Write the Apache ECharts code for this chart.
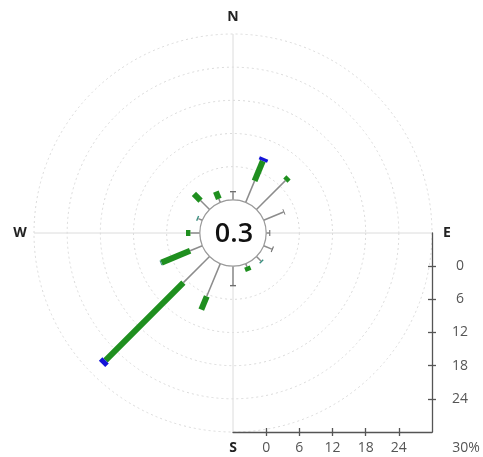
<!DOCTYPE html>
<html>
<head>
<meta charset="utf-8">
<script src="https://cdn.jsdelivr.net/npm/echarts@6/dist/echarts.min.js"></script>
<style>
  html, body { margin: 0; padding: 0; background: #fff; }
  #main { width: 483px; height: 457px; }
</style>
</head>
<body>
<div id="main"></div>
<script>
// wind directions (degrees from north) and frequency (%) per speed band
const directions = [0, 22.5, 45, 67.5, 90, 112.5, 135, 157.5, 180, 202.5, 225, 247.5, 270, 292.5, 315, 337.5];
const bandGray  = [1.35, 4.2, 7.4, 3.9, 0.55, 1.6, 1.15, 0.6, 3.4, 6.4, 6.7, 2.4, 1.7, 0.8, 2.3, 0.7];
const bandDark  = [0.25, 0, 0, 0.15, 0.2, 0.2, 0, 0, 0.25, 0, 0, 0, 0, 0, 0, 0];
const bandGreen = [0, 3.9, 0.8, 0, 0, 0, 0, 0.8, 0, 2.6, 19.9, 5.6, 0.8, 0, 1.7, 1.4];
const bandBlue  = [0, 0.6, 0, 0, 0, 0, 0.25, 0, 0, 0, 0.9, 0.2, 0, 0.25, 0, 0];
const calm = 0.3;
const tickValues = [0, 6, 12, 18, 24];

const bands = [
    { vals: bandGray,  color: '#8c8c8c', width: 1.5 },
    { vals: bandDark,  color: '#6e6e6e', width: 6 },
    { vals: bandGreen, color: '#1f8f1f', width: 6 },
    { vals: bandBlue,  color: '#1414d8', width: 9 }
];

const cx = 233, cy = 233, R = 199;
const calmR = R * 6 / 36;

const rows = directions.map((d, i) => [d, bandGray[i], bandDark[i], bandGreen[i], bandBlue[i]]);

function renderPaddle(params, api) {
    const ang = api.value(0);
    const children = [];
    let start = 0;
    for (let b = 0; b < bands.length; b++) {
        const len = api.value(b + 1);
        if (!len) continue;
        const end = start + len;
        const p0 = api.coord([start, ang]);
        const p1 = api.coord([end, ang]);
        const dx = p1[0] - p0[0], dy = p1[1] - p0[1];
        const L = Math.sqrt(dx * dx + dy * dy) || 1;
        let w = bands[b].width, col = bands[b].color;
        // tiny blue tips look teal in the original
        if (b === 3 && len < 0.3) { w = 5; col = '#3a8f80'; }
        const nx = -dy / L * w / 2, ny = dx / L * w / 2;
        children.push({
            type: 'polygon',
            shape: { points: [[p0[0] + nx, p0[1] + ny], [p1[0] + nx, p1[1] + ny], [p1[0] - nx, p1[1] - ny], [p0[0] - nx, p0[1] - ny]] },
            style: { fill: col }
        });
        start = end;
    }
    return { type: 'group', children: children };
}

const labelFont = { fontFamily: 'Open Sans', fontSize: 14, color: '#555' };

const option = {
    animation: false,
    polar: { center: [cx, cy], radius: [0, R] },
    angleAxis: {
        type: 'value', min: 0, max: 360, interval: 90, startAngle: 90, clockwise: true,
        axisLine: { show: false }, axisTick: { show: false }, axisLabel: { show: false },
        splitLine: { show: true, lineStyle: { color: '#dcdcdc', width: 1 } }
    },
    radiusAxis: {
        type: 'value', min: -6, max: 30, interval: 6,
        axisLine: { show: false }, axisTick: { show: false }, axisLabel: { show: false },
        splitLine: { show: true, lineStyle: { color: '#d9d9d9', type: [2, 3], width: 1 } }
    },
    grid: { left: cx, top: cy, width: R, height: R },
    xAxis: [
        {
            type: 'value', position: 'bottom', min: -6, max: 30, interval: 6,
            axisLine: { onZero: false, lineStyle: { color: '#555', width: 1.3 } },
            axisTick: { customValues: tickValues, length: 4, lineStyle: { color: '#555', width: 1.3 } },
            axisLabel: Object.assign({ customValues: tickValues, margin: 9 }, labelFont),
            splitLine: { show: false }
        },
        {
            type: 'value', position: 'bottom', min: -6, max: 30, interval: 6,
            axisLine: { show: false, onZero: false },
            axisTick: { inside: true, customValues: tickValues, length: 4, lineStyle: { color: '#555', width: 1.3 } },
            axisLabel: { show: false }, splitLine: { show: false }
        }
    ],
    yAxis: [
        {
            type: 'value', position: 'right', inverse: true, min: -6, max: 30, interval: 6,
            axisLine: { show: true, onZero: false, lineStyle: { color: '#555', width: 1.3 } },
            axisTick: { show: true, customValues: tickValues, length: 4, lineStyle: { color: '#555', width: 1.3 } },
            axisLabel: Object.assign({ customValues: tickValues, margin: 28, align: 'center' }, labelFont),
            splitLine: { show: false }
        },
        {
            type: 'value', position: 'right', inverse: true, min: -6, max: 30, interval: 6,
            axisLine: { show: false, onZero: false },
            axisTick: { show: true, inside: true, customValues: tickValues, length: 4, lineStyle: { color: '#555', width: 1.3 } },
            axisLabel: { show: false }, splitLine: { show: false }
        }
    ],
    series: [{
        type: 'custom',
        coordinateSystem: 'polar',
        renderItem: renderPaddle,
        encode: { angle: 0, radius: 1 },
        data: rows,
        z: 5
    }],
    graphic: [
        { type: 'circle', z: 50, shape: { cx: cx, cy: cy, r: calmR }, style: { fill: '#fff', stroke: '#9a9a9a', lineWidth: 1.2 } },
        { type: 'text', z: 51, x: cx + 1, y: cy + 1, style: { text: String(calm), font: '600 27px "Open Sans"', fill: '#111', align: 'center', verticalAlign: 'middle' } },
        { type: 'text', z: 51, x: cx, y: 17, style: { text: 'N', font: 'bold 14px "Open Sans"', fill: '#222', align: 'center', verticalAlign: 'middle' } },
        { type: 'text', z: 51, x: 20, y: cy, style: { text: 'W', font: 'bold 14px "Open Sans"', fill: '#222', align: 'center', verticalAlign: 'middle' } },
        { type: 'text', z: 51, x: 447, y: cy, style: { text: 'E', font: 'bold 14px "Open Sans"', fill: '#222', align: 'center', verticalAlign: 'middle' } },
        { type: 'text', z: 51, x: cx, y: 448, style: { text: 'S', font: 'bold 14px "Open Sans"', fill: '#222', align: 'center', verticalAlign: 'middle' } },
        { type: 'text', z: 51, x: 466, y: 448, style: { text: '30%', font: '14px "Open Sans"', fill: '#555', align: 'center', verticalAlign: 'middle' } }
    ]
};

const chart = echarts.init(document.getElementById('main'));
chart.setOption(option);
</script>
</body>
</html>
